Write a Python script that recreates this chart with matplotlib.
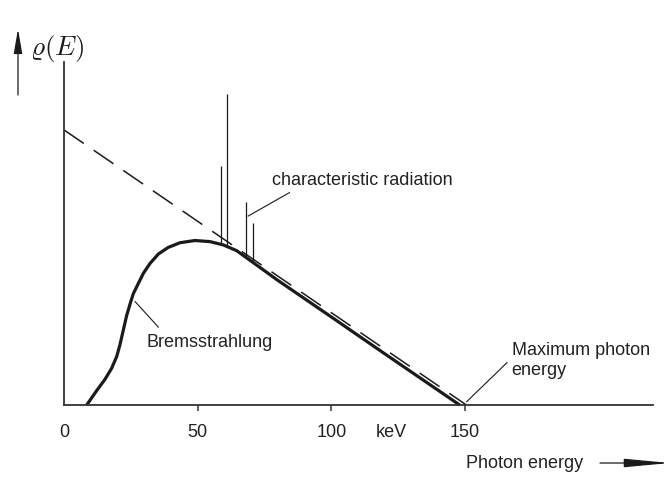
import matplotlib
matplotlib.use("Agg")
import matplotlib.pyplot as plt

plt.rcParams['mathtext.fontset'] = 'cm'
plt.rcParams['font.family'] = ['Liberation Sans', 'DejaVu Sans']

# ---- data (keV, relative intensity) ----
brems_E = [8.5, 12.2, 15.3, 17.8, 19.7, 20.9, 22.2, 23.4, 24.7, 25.9, 27.8, 29.7,
           32.2, 35.3, 39.0, 43.4, 49.0, 54.6, 59.6, 64.6, 80.0, 100.0, 120.0, 148.0]
brems_I = [0.0, 5.2, 9.3, 13.3, 17.6, 21.8, 27.3, 32.4, 36.7, 40.4, 44.2, 47.9,
           51.5, 54.9, 57.3, 59.0, 59.8, 59.4, 58.2, 56.1, 45.3, 32.0, 18.6, 0.0]

kramers_E = [0.0, 150.5]
kramers_I = [100.0, 0.0]

char_E = [58.6, 61.1, 67.9, 70.6]
char_bottom = [58.2, 57.6, 53.8, 52.4]
char_top = [86.9, 113.1, 73.8, 66.2]

tick_vals = [50, 100, 150]
tick_labels = ['50', '100', '150']

ink = '#1a1a1a'
txt = '#222222'
fs = 13

fig = plt.figure(figsize=(6.71, 4.78), dpi=100)
fig.patch.set_facecolor('white')
ax = fig.add_axes([64/671, 73/478, 589/671, 343/478])
ax.set_xlim(0, 220.3)
ax.set_ylim(0, 124.7)
for s in ['top', 'right']:
    ax.spines[s].set_visible(False)
for s in ['left', 'bottom']:
    ax.spines[s].set_color('#333333')
    ax.spines[s].set_linewidth(1.3)
ax.set_yticks([])
ax.set_xticks(tick_vals)
ax.set_xticklabels(tick_labels)
ax.set_xticks([0], minor=True)
ax.set_xticklabels(['0'], minor=True)
ax.tick_params(axis='x', which='major', direction='out', length=4.3, width=1.1,
               color='#333333', pad=9.5, labelsize=fs, labelcolor=txt)
ax.tick_params(axis='x', which='minor', length=0, pad=13.8, labelsize=fs, labelcolor=txt)

# dashed Kramers line
ax.plot(kramers_E, kramers_I, color=ink, lw=1.1, linestyle=(0, (15.7, 7.8)),
        clip_on=False)
# Bremsstrahlung curve
ax.plot(brems_E, brems_I, color=ink, lw=2.3, solid_joinstyle='round',
        solid_capstyle='butt', clip_on=False)
# characteristic lines
ax.vlines(char_E, char_bottom, char_top, color=ink, lw=0.9)

# labels and leaders
ax.plot([84.3, 68.9], [77.2, 68.7], color=ink, lw=0.8)
ax.text(77.8, 81.8, 'characteristic radiation', fontsize=fs, color=txt,
        ha='left', va='center')
ax.plot([26.6, 35.3], [37.6, 28.3], color=ink, lw=0.8)
ax.text(31.0, 22.7, 'Bremsstrahlung', fontsize=fs, color=txt, ha='left', va='center')
ax.plot([165.7, 150.6], [15.4, 1.2], color=ink, lw=0.8)
ax.text(167.4, 16.1, 'Maximum photon\nenergy', fontsize=fs, color=txt,
        ha='left', va='center', linespacing=1.2)

ax.text(122.6, -27.5/343, 'keV', fontsize=fs, color=txt, ha='center', va='center',
        transform=ax.get_xaxis_transform())

# outer axis labels & arrows
fig.text(466/671, 15/478, 'Photon energy', fontsize=fs, color=txt, ha='left', va='center')
ax.annotate('', xy=(670, 15), xytext=(600, 15), xycoords='figure pixels',
            textcoords='figure pixels',
            arrowprops=dict(arrowstyle='-|>,head_length=28,head_width=2.6',
                            mutation_scale=1, color=ink, lw=0.9, shrinkA=0, shrinkB=0))
fig.text(30/671, (478-48)/478, r'$\varrho(E)$', fontsize=19.5, color=ink,
         ha='left', va='center')
ax.annotate('', xy=(18, 449), xytext=(18, 383), xycoords='figure pixels',
            textcoords='figure pixels',
            arrowprops=dict(arrowstyle='-|>,head_length=15,head_width=2.6',
                            mutation_scale=1, color=ink, lw=0.9, shrinkA=0, shrinkB=0))

fig.savefig('out.png', dpi=100, facecolor='white')
